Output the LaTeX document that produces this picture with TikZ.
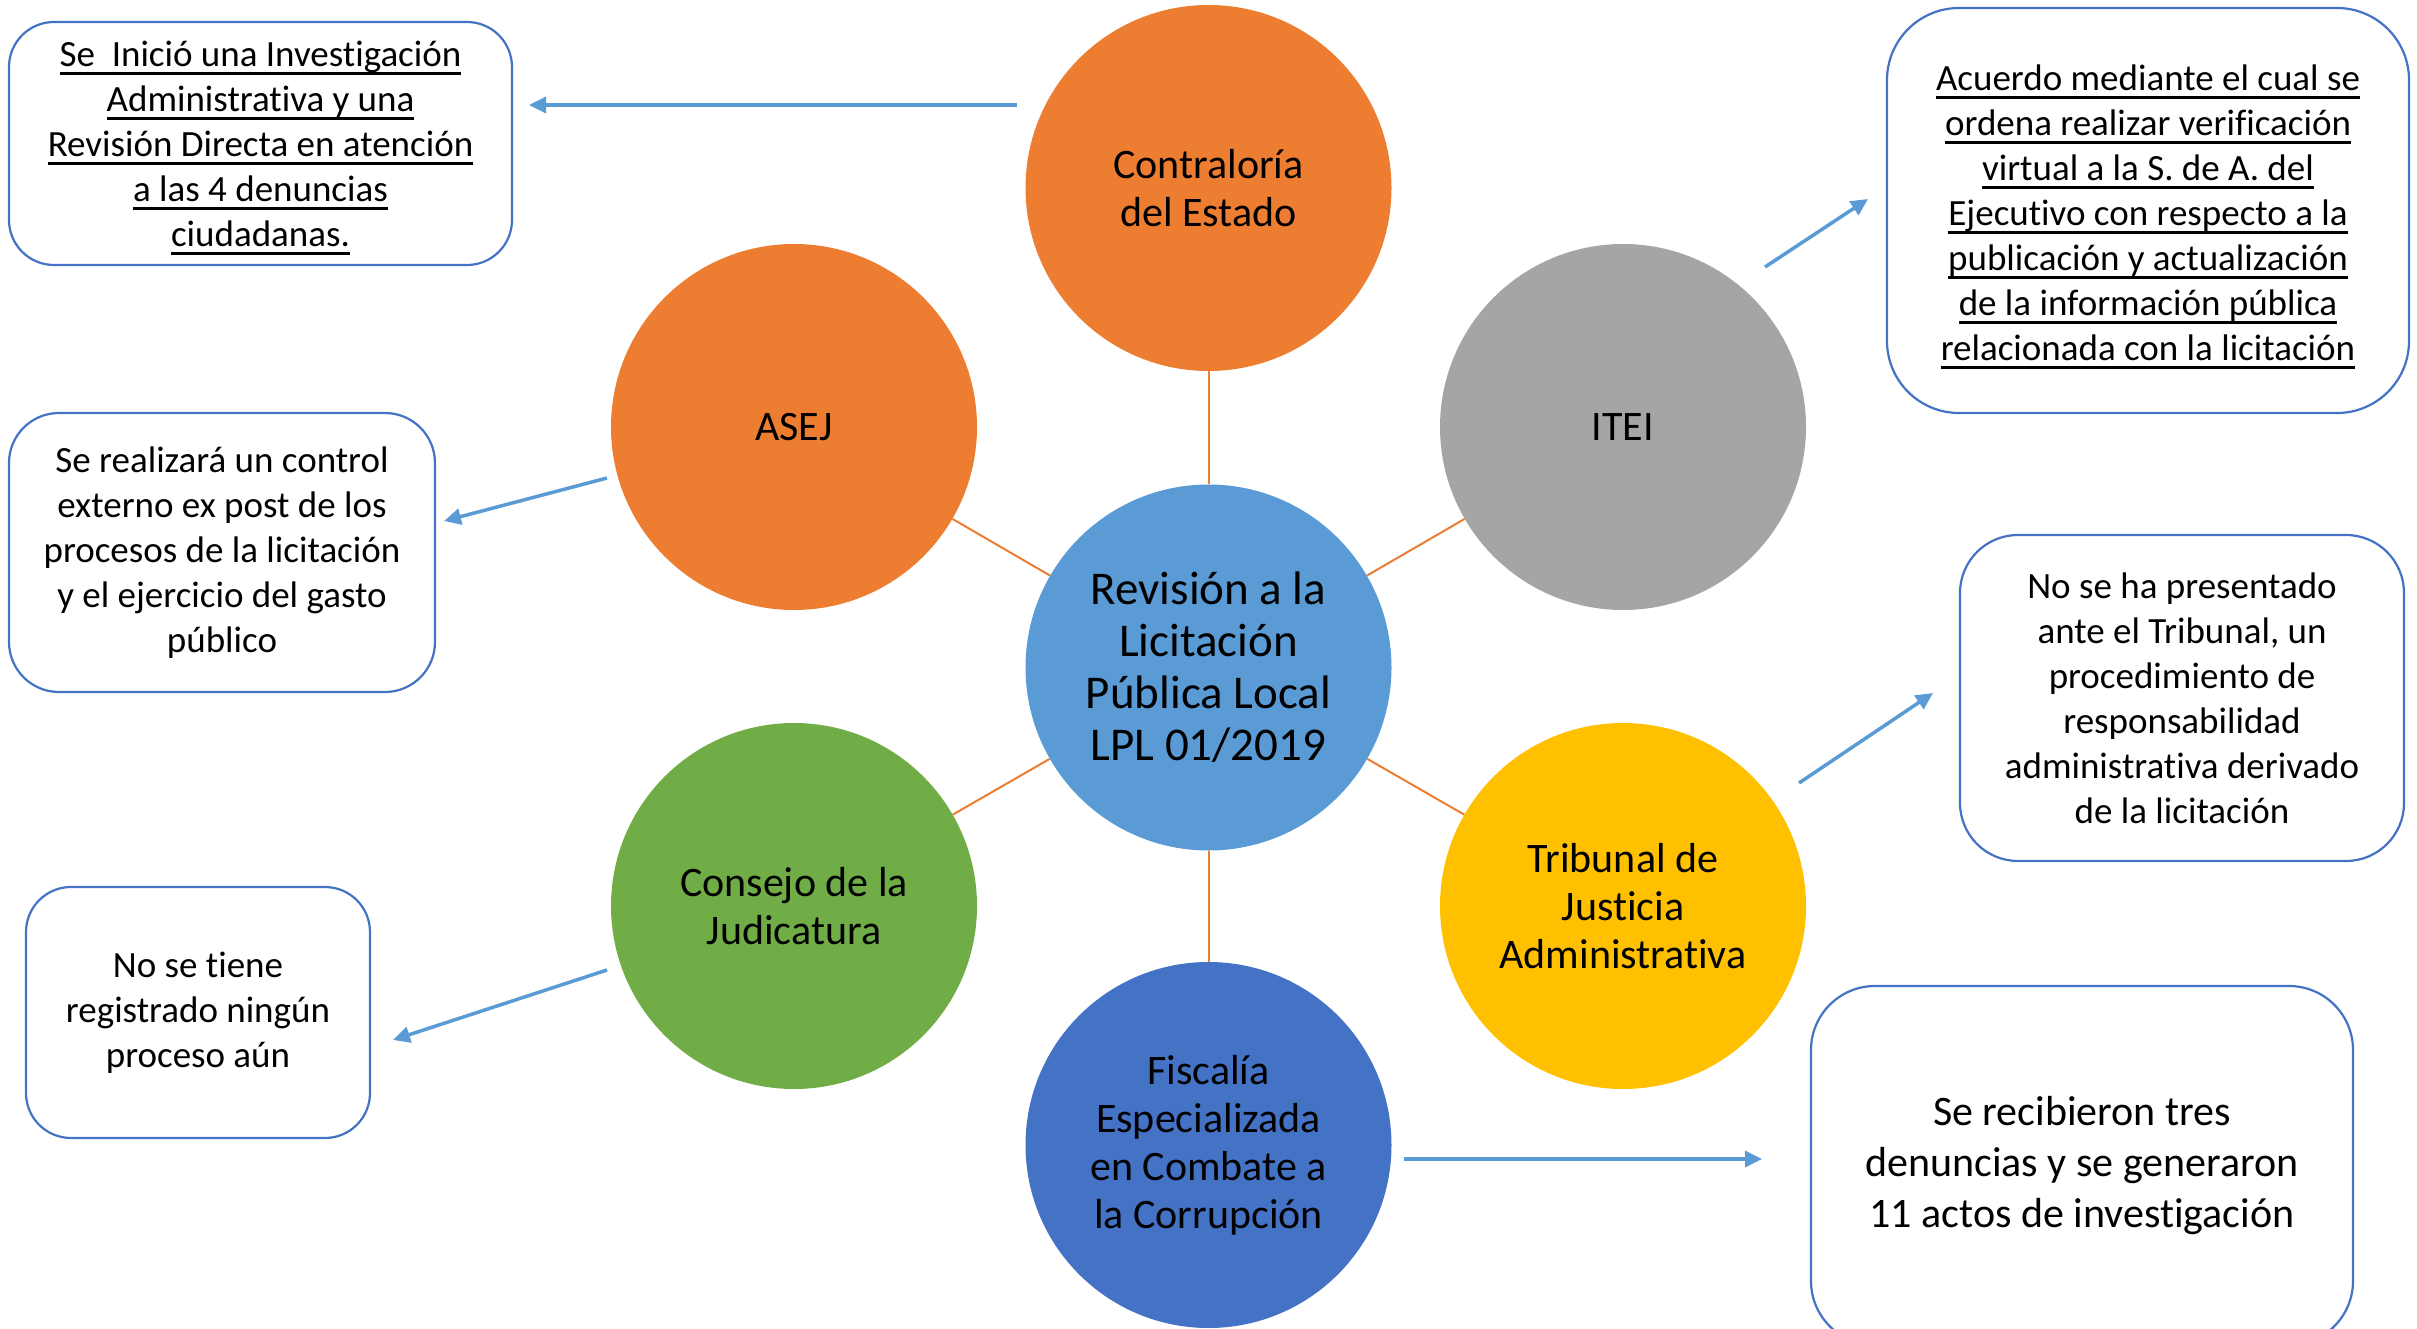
\documentclass[tikz,border=0pt]{standalone}
\usepackage{fontspec}
\setmainfont{Carlito}[Ligatures={NoCommon,NoRequired,NoContextual}]
\usetikzlibrary{arrows.meta}
\definecolor{corange}{HTML}{ED7D31}
\definecolor{cgray}{HTML}{A5A5A5}
\definecolor{cblue}{HTML}{5B9BD5}
\definecolor{cgreen}{HTML}{70AD47}
\definecolor{cgold}{HTML}{FFC000}
\definecolor{cdark}{HTML}{4472C4}
\newcommand{\ulline}[1]{\setbox0=\hbox{#1}\rlap{\rule[-8.2pt]{\wd0}{2.3pt}}\box0}
\tikzset{
  bubble/.style={circle, minimum size=366pt, inner sep=0pt, align=center,
    font=\fontsize{42}{48}\selectfont},
  infobox/.style={draw=cdark, line width=2.2pt, fill=white, align=center,
    inner sep=0pt, font=\fontsize{37}{45}\selectfont},
  link/.style={draw=corange, line width=2pt},
  arr/.style={draw=cblue, line width=3.5pt, -{Triangle[length=17pt,width=16pt]}},
}
\begin{document}
\begin{tikzpicture}[x=1pt,y=-1pt]
\useasboundingbox (0,0) rectangle (2417,1329);
\clip (0,0) rectangle (2417,1329);
% circles
\node[bubble, fill=corange] (contra) at (1208.5,188) {Contraloría\\del Estado};
\node[bubble, fill=corange] (asej) at (794,427) {ASEJ};
\node[bubble, fill=cgray] (itei) at (1623,427) {ITEI};
\node[bubble, fill=cblue, font=\fontsize{47}{52}\selectfont] (center) at (1208.5,667.5)
  {Revisión a la\\Licitación\\Pública Local\\LPL 01/2019};
\node[bubble, fill=cgreen] (consejo) at (794,906) {Consejo de la\\Judicatura};
\node[bubble, fill=cgold] (tribunal) at (1623,906) {Tribunal de\\Justicia\\Administrativa};
\node[bubble, fill=cdark] (fiscalia) at (1208.5,1145) {Fiscalía\\Especializada\\en Combate a\\la Corrupción};
% links
\draw[link] (center) -- (contra);
\draw[link] (center) -- (asej);
\draw[link] (center) -- (itei);
\draw[link] (center) -- (consejo);
\draw[link] (center) -- (tribunal);
\draw[link] (center) -- (fiscalia);
% boxes
\node[infobox, minimum width=503pt, minimum height=243pt, rounded corners=45pt] (box1) at (260.5,143.5)
  {\rule{0pt}{34pt}\ulline{Se\ \ Inició una Investigación}\\\ulline{Administrativa y una}\\\ulline{Revisión Directa en atención}\\\ulline{a las 4 denuncias}\\\ulline{ciudadanas.}};
\node[infobox, minimum width=522pt, minimum height=405pt, rounded corners=72pt] (box2) at (2148,210.5)
  {\rule{0pt}{38pt}\ulline{Acuerdo mediante el cual se}\\\ulline{ordena realizar verificación}\\\ulline{virtual a la S. de A. del}\\\ulline{Ejecutivo con respecto a la}\\\ulline{publicación y actualización}\\\ulline{de la información pública}\\\ulline{relacionada con la licitación}};
\node[infobox, minimum width=426pt, minimum height=279pt, rounded corners=50pt] (box3) at (222,552.5)
  {Se realizará un control\\externo ex post de los\\procesos de la licitación\\y el ejercicio del gasto\\público};
\node[infobox, minimum width=444pt, minimum height=326pt, rounded corners=58pt] (box4) at (2182,698)
  {No se ha presentado\\ante el Tribunal, un\\procedimiento de\\responsabilidad\\administrativa derivado\\de la licitación};
\node[infobox, minimum width=344pt, minimum height=251pt, rounded corners=45pt] (box5) at (198,1012.5)
  {No se tiene\\registrado ningún\\proceso aún};
\node[infobox, minimum width=542pt, minimum height=359pt, rounded corners=64pt,
  font=\fontsize{42}{51}\selectfont] (box6) at (2082,1165.5)
  {Se recibieron tres\\denuncias y se generaron\\11 actos de investigación};
% arrow ends
\coordinate (a1s) at (1017,105);  \coordinate (a1e) at (529,105);
\coordinate (a2s) at (1765,267);  \coordinate (a2e) at (1868,199);
\coordinate (a3s) at (607,478);   \coordinate (a3e) at (444,521);
\coordinate (a4s) at (1799,783);  \coordinate (a4e) at (1933,693);
\coordinate (a5s) at (607,970);   \coordinate (a5e) at (393,1040);
\coordinate (a6s) at (1404,1159); \coordinate (a6e) at (1762,1159);
\draw[arr] (a1s) -- (a1e);
\draw[arr] (a2s) -- (a2e);
\draw[arr] (a3s) -- (a3e);
\draw[arr] (a4s) -- (a4e);
\draw[arr] (a5s) -- (a5e);
\draw[arr] (a6s) -- (a6e);
\end{tikzpicture}
\end{document}
